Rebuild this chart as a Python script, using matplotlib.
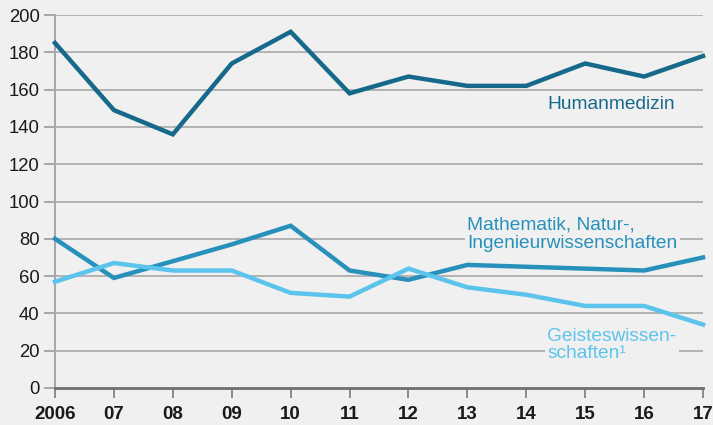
import matplotlib
matplotlib.use("Agg")
import matplotlib.pyplot as plt

years = [2006, 2007, 2008, 2009, 2010, 2011, 2012, 2013, 2014, 2015, 2016, 2017]
xlabels = ["2006", "07", "08", "09", "10", "11", "12", "13", "14", "15", "16", "17"]
humanmedizin = [185, 149, 136, 174, 191, 158, 167, 162, 162, 174, 167, 178]
mint = [80, 59, 68, 77, 87, 63, 58, 66, 65, 64, 63, 70]
geistes = [57, 67, 63, 63, 51, 49, 64, 54, 50, 44, 44, 34]
yticks = [0, 20, 40, 60, 80, 100, 120, 140, 160, 180, 200]

c_hum = "#17698c"
c_mint = "#2790bb"
c_geist = "#5cc4ec"
bg = "#f0f0f0"

plt.rcParams['font.family'] = ['Liberation Sans', 'DejaVu Sans']

fig = plt.figure(figsize=(7.13, 4.25), dpi=100, facecolor=bg)
ax = fig.add_axes([55/713, 1-388/425, (703-55)/713, (388-15)/425])
ax.set_facecolor(bg)

for v in yticks[1:]:
    ax.axhline(v, color="#b3b3b3", lw=1.4, zorder=1)

ax.plot(years, humanmedizin, color=c_hum, lw=3.2, solid_joinstyle="miter", zorder=3, clip_on=False)
ax.plot(years, mint, color=c_mint, lw=3.2, solid_joinstyle="miter", zorder=3, clip_on=False)
ax.plot(years, geistes, color=c_geist, lw=3.2, solid_joinstyle="miter", zorder=3, clip_on=False)

ax.set_xlim(2006, 2017)
ax.set_ylim(0, 200)
ax.set_xticks(years)
ax.set_xticklabels(xlabels, fontsize=13.5, fontweight="bold", color="#1a1a1a")
ax.set_yticks(yticks)
ax.set_yticklabels([str(v) for v in yticks], fontsize=13.3, color="#1a1a1a")

for s in ["top", "right"]:
    ax.spines[s].set_visible(False)
ax.spines["left"].set_color("#a8a8a8")
ax.spines["left"].set_linewidth(1.4)
ax.spines["bottom"].set_color("#6e6e6e")
ax.spines["bottom"].set_linewidth(2)
ax.spines["bottom"].set_zorder(4)

ax.tick_params(axis="y", length=8, width=1.4, color="#a8a8a8", pad=3)
ax.tick_params(axis="x", length=7, width=1.4, color="#8a8a8a", pad=6)

box = dict(facecolor=bg, edgecolor="none", pad=2)
ax.text(2014.36, 152, "Humanmedizin", color=c_hum, fontsize=13.8, va="center", ha="left", bbox=box, zorder=5)
ax.text(2013.0, 82.5, "Mathematik, Natur-,\nIngenieurwissenschaften", color=c_mint, fontsize=13.8,
        va="center", ha="left", linespacing=1.1, bbox=box, zorder=5)
ax.text(2014.36, 23, "Geisteswissen-\nschaften\u00b9", color=c_geist, fontsize=13.8,
        va="center", ha="left", linespacing=1.05, bbox=box, zorder=5)

fig.savefig("out.png", dpi=100, facecolor=bg)
